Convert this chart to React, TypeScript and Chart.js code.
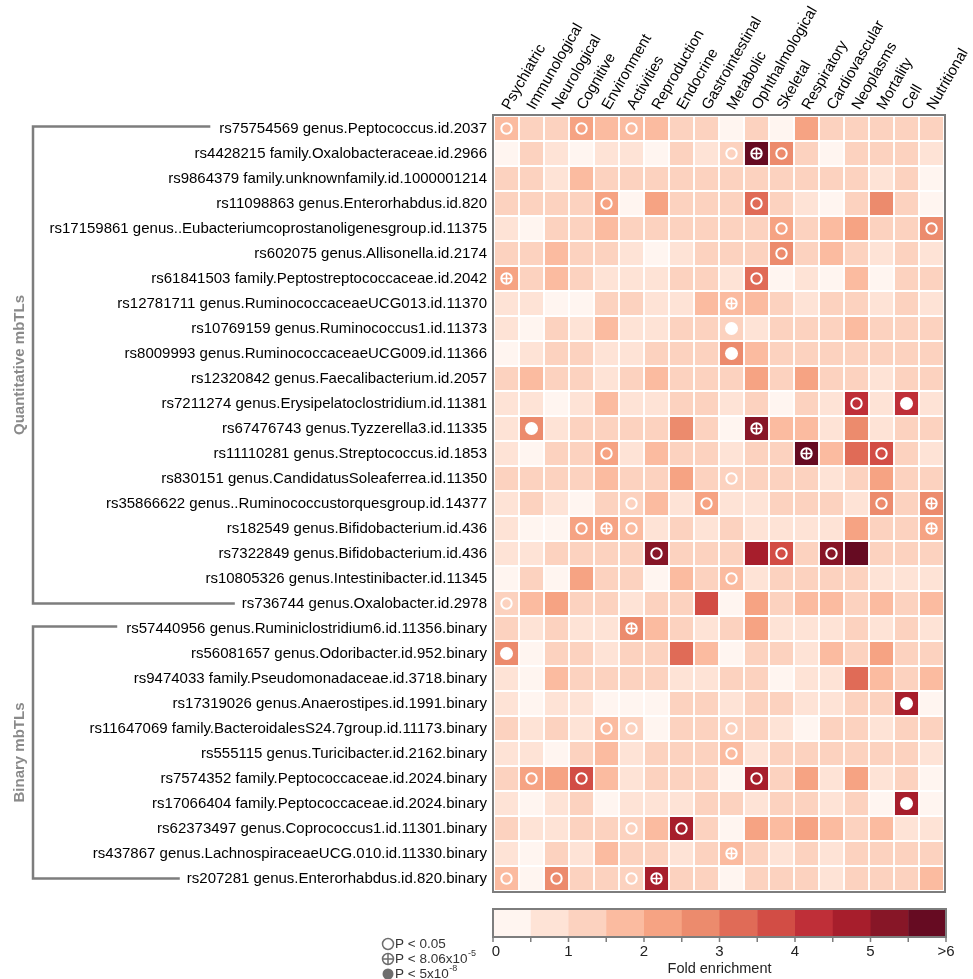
import React, { useEffect, useRef } from "react";
import { Chart, registerables } from "chart.js";

Chart.register(...registerables);

const FONT = '"Liberation Sans", Arial, Helvetica, sans-serif';

const traitCategories = [
  "Psychiatric", "Immunological", "Neurological", "Cognitive", "Environment", "Activities",
  "Reproduction", "Endocrine", "Gastrointestinal", "Metabolic", "Ophthalmological", "Skeletal",
  "Respiratory", "Cardiovascular", "Neoplasms", "Mortality", "Cell", "Nutritional",
];

const mbTLs = [
  "rs75754569 genus.Peptococcus.id.2037",
  "rs4428215 family.Oxalobacteraceae.id.2966",
  "rs9864379 family.unknownfamily.id.1000001214",
  "rs11098863 genus.Enterorhabdus.id.820",
  "rs17159861 genus..Eubacteriumcoprostanoligenesgroup.id.11375",
  "rs602075 genus.Allisonella.id.2174",
  "rs61841503 family.Peptostreptococcaceae.id.2042",
  "rs12781711 genus.RuminococcaceaeUCG013.id.11370",
  "rs10769159 genus.Ruminococcus1.id.11373",
  "rs8009993 genus.RuminococcaceaeUCG009.id.11366",
  "rs12320842 genus.Faecalibacterium.id.2057",
  "rs7211274 genus.Erysipelatoclostridium.id.11381",
  "rs67476743 genus.Tyzzerella3.id.11335",
  "rs11110281 genus.Streptococcus.id.1853",
  "rs830151 genus.CandidatusSoleaferrea.id.11350",
  "rs35866622 genus..Ruminococcustorquesgroup.id.14377",
  "rs182549 genus.Bifidobacterium.id.436",
  "rs7322849 genus.Bifidobacterium.id.436",
  "rs10805326 genus.Intestinibacter.id.11345",
  "rs736744 genus.Oxalobacter.id.2978",
  "rs57440956 genus.Ruminiclostridium6.id.11356.binary",
  "rs56081657 genus.Odoribacter.id.952.binary",
  "rs9474033 family.Pseudomonadaceae.id.3718.binary",
  "rs17319026 genus.Anaerostipes.id.1991.binary",
  "rs11647069 family.BacteroidalesS24.7group.id.11173.binary",
  "rs555115 genus.Turicibacter.id.2162.binary",
  "rs7574352 family.Peptococcaceae.id.2024.binary",
  "rs17066404 family.Peptococcaceae.id.2024.binary",
  "rs62373497 genus.Coprococcus1.id.11301.binary",
  "rs437867 genus.LachnospiraceaeUCG.010.id.11330.binary",
  "rs207281 genus.Enterorhabdus.id.820.binary",
];

// fold enrichment, one row per mbTL, one value per trait category
const foldEnrichment: number[][] = [
  [1.8, 1.2, 1.2, 2.2, 1.8, 1.8, 1.8, 1.2, 1.2, 0.3, 1.2, 0.3, 2.2, 1.2, 1.2, 1.2, 1.2, 1.2],
  [0.3, 1.2, 0.8, 0.3, 0.8, 0.8, 0.3, 1.2, 0.8, 1.2, 6.4, 2.8, 1.2, 0.3, 1.2, 1.2, 1.2, 0.8],
  [1.2, 1.2, 0.8, 1.8, 1.2, 1.2, 1.2, 1.2, 1.2, 1.2, 1.2, 1.2, 1.2, 1.2, 1.2, 0.8, 1.2, 0.3],
  [1.2, 1.2, 1.2, 1.2, 2.2, 0.3, 2.2, 1.2, 1.2, 1.2, 3.2, 1.2, 0.8, 0.3, 1.2, 2.8, 1.2, 0.3],
  [0.8, 0.3, 1.2, 1.2, 1.8, 1.2, 1.2, 1.2, 1.2, 1.2, 1.2, 2.2, 1.2, 1.8, 2.2, 1.2, 1.2, 2.8],
  [1.2, 1.2, 1.8, 1.2, 1.2, 0.8, 0.3, 0.8, 1.2, 1.2, 1.2, 2.8, 1.2, 1.8, 1.2, 0.8, 1.2, 0.8],
  [2.2, 1.2, 1.8, 1.2, 0.8, 0.8, 0.8, 1.2, 1.2, 0.8, 3.2, 0.3, 0.8, 0.3, 1.8, 0.3, 1.2, 1.2],
  [0.8, 0.8, 0.3, 0.3, 1.2, 1.2, 0.8, 0.8, 1.8, 1.8, 1.8, 1.2, 0.8, 1.2, 1.2, 0.8, 1.2, 0.8],
  [0.8, 0.3, 1.2, 0.8, 1.8, 0.8, 0.8, 1.2, 1.2, 1.2, 0.8, 1.2, 1.2, 1.2, 1.8, 1.2, 1.2, 1.2],
  [0.3, 0.8, 1.2, 1.2, 0.8, 0.8, 1.2, 1.2, 1.2, 2.8, 1.8, 1.2, 1.2, 1.2, 1.2, 1.2, 1.2, 1.2],
  [1.2, 1.8, 1.2, 1.2, 0.8, 1.2, 1.8, 1.2, 1.2, 1.2, 2.2, 1.2, 2.2, 1.2, 1.2, 0.8, 1.2, 1.2],
  [0.8, 0.8, 0.3, 0.8, 1.8, 0.8, 0.8, 1.2, 1.2, 0.8, 1.2, 0.3, 1.2, 0.8, 4.2, 0.8, 4.2, 0.8],
  [0.8, 2.8, 0.8, 1.2, 1.2, 1.2, 1.2, 2.8, 1.2, 0.3, 5.2, 1.8, 1.8, 0.8, 2.8, 0.8, 1.2, 1.2],
  [0.8, 0.3, 1.2, 1.2, 2.2, 0.8, 1.8, 1.2, 1.2, 0.8, 1.2, 1.2, 6.4, 1.8, 3.2, 3.8, 1.2, 0.8],
  [1.2, 1.2, 1.2, 1.2, 1.8, 1.2, 1.2, 2.2, 1.2, 1.2, 1.2, 1.2, 1.2, 0.8, 1.2, 2.2, 1.2, 1.2],
  [0.8, 1.2, 0.8, 0.3, 1.2, 1.2, 1.8, 0.8, 2.2, 0.8, 0.8, 1.2, 1.2, 1.2, 0.8, 2.8, 1.2, 2.8],
  [0.8, 0.3, 0.3, 2.2, 2.2, 1.8, 0.8, 1.2, 0.8, 1.2, 0.8, 0.8, 0.8, 0.8, 2.2, 1.2, 1.2, 2.2],
  [0.8, 0.8, 1.2, 1.2, 1.2, 1.2, 5.2, 1.2, 1.2, 1.2, 4.8, 3.8, 1.2, 5.2, 6.4, 1.2, 1.2, 1.2],
  [0.3, 1.2, 0.3, 2.2, 1.2, 1.2, 0.3, 1.8, 1.2, 1.8, 0.8, 1.2, 1.2, 1.2, 1.2, 0.8, 0.8, 0.8],
  [1.2, 1.8, 2.2, 1.2, 1.2, 0.8, 1.2, 1.2, 3.8, 0.3, 2.2, 1.2, 1.8, 1.8, 1.2, 1.8, 1.2, 1.8],
  [1.2, 0.8, 1.2, 0.8, 0.8, 2.8, 1.8, 1.2, 0.8, 1.2, 2.2, 0.8, 0.8, 0.8, 1.2, 0.8, 1.2, 0.8],
  [2.8, 0.3, 1.2, 1.2, 0.8, 1.2, 1.2, 3.2, 1.8, 0.3, 1.2, 1.2, 0.8, 1.8, 1.2, 2.2, 1.2, 1.2],
  [0.8, 0.3, 1.8, 1.2, 1.2, 1.2, 1.2, 0.8, 0.8, 1.2, 1.2, 0.3, 0.8, 0.8, 3.2, 1.8, 1.2, 1.8],
  [0.8, 0.3, 0.8, 0.8, 0.3, 0.3, 0.3, 1.2, 1.2, 0.8, 1.2, 1.2, 0.8, 0.8, 1.2, 1.2, 4.8, 0.3],
  [1.2, 0.8, 1.2, 0.8, 1.8, 1.2, 0.3, 1.2, 1.2, 1.2, 1.2, 0.8, 0.3, 1.2, 1.2, 0.8, 1.2, 1.2],
  [0.8, 0.8, 0.3, 1.2, 1.8, 0.8, 1.2, 1.2, 1.2, 1.8, 0.8, 1.2, 1.2, 1.2, 1.2, 1.2, 1.2, 0.8],
  [1.2, 2.2, 2.2, 3.8, 1.8, 0.8, 1.2, 1.2, 1.2, 0.3, 4.8, 1.2, 2.2, 0.8, 2.2, 0.8, 1.2, 0.3],
  [0.8, 0.3, 0.8, 1.2, 0.3, 0.8, 0.8, 0.8, 1.2, 1.2, 0.8, 1.2, 1.2, 0.8, 1.2, 0.3, 4.8, 0.3],
  [1.2, 0.8, 0.8, 1.2, 1.2, 1.2, 1.8, 4.8, 1.2, 0.3, 2.2, 1.8, 2.2, 1.8, 1.2, 1.8, 0.8, 0.8],
  [0.8, 0.3, 1.2, 0.8, 1.8, 1.2, 1.2, 0.8, 1.2, 1.8, 1.2, 0.8, 1.2, 0.8, 1.2, 1.2, 1.2, 1.2],
  [1.8, 0.3, 2.8, 1.2, 1.2, 1.2, 4.8, 1.2, 1.2, 0.3, 1.2, 1.2, 1.2, 0.8, 1.2, 1.2, 1.2, 1.8],
];

// [row, column, level]: 1 = P < 0.05, 2 = P < 8.06x10^-5, 3 = P < 5x10^-8
const significantCells: [number, number, number][] = [
  [0, 0, 1], [0, 3, 1], [0, 5, 1],
  [1, 9, 1], [1, 10, 2], [1, 11, 1],
  [3, 4, 1], [3, 10, 1],
  [4, 11, 1], [4, 17, 1],
  [5, 11, 1],
  [6, 0, 2], [6, 10, 1],
  [7, 9, 2],
  [8, 9, 3],
  [9, 9, 3],
  [11, 14, 1], [11, 16, 3],
  [12, 1, 3], [12, 10, 2],
  [13, 4, 1], [13, 12, 2], [13, 15, 1],
  [14, 9, 1],
  [15, 5, 1], [15, 8, 1], [15, 15, 1], [15, 17, 2],
  [16, 3, 1], [16, 4, 2], [16, 5, 1], [16, 17, 2],
  [17, 6, 1], [17, 11, 1], [17, 13, 1],
  [18, 9, 1],
  [19, 0, 1],
  [20, 5, 2],
  [21, 0, 3],
  [23, 16, 3],
  [24, 4, 1], [24, 5, 1], [24, 9, 1],
  [25, 9, 1],
  [26, 1, 1], [26, 3, 1], [26, 10, 1],
  [27, 16, 3],
  [28, 5, 1], [28, 7, 1],
  [29, 9, 2],
  [30, 0, 1], [30, 2, 1], [30, 5, 1], [30, 6, 2],
];

const colorBins = [
  "#fff5f0", "#fee3d6", "#fcd2bf", "#fbbba0", "#f6a383", "#ec8b6d",
  "#e06b57", "#d24d45", "#bf2f38", "#a71e2c", "#871627", "#660b22",
];
const binStep = 0.5;
const colorbarTickLabels = ["0", "1", "2", "3", "4", "5", ">6"];

const mbTLGroups = [
  { label: "Quantitative mbTLs", from: 0, to: 19 },
  { label: "Binary mbTLs", from: 20, to: 30 },
];

const pValueLegend = [
  { level: 1, text: "P < 0.05", sup: "" },
  { level: 2, text: "P < 8.06x10", sup: "-5" },
  { level: 3, text: "P < 5x10", sup: "-8" },
];

function binColor(v: number) {
  const i = Math.min(colorBins.length - 1, Math.max(0, Math.floor(v / binStep)));
  return colorBins[i];
}

const decorPlugin = {
  id: "decor",
  afterDraw(chart: any) {
    const { ctx, chartArea: a, scales } = chart;
    const ys = scales.y;
    ctx.save();

    // heatmap frame
    ctx.strokeStyle = "#7d7d7d";
    ctx.lineWidth = 2;
    ctx.strokeRect(a.left - 1, a.top - 1, a.right - a.left + 2, a.bottom - a.top + 2);

    // group brackets
    const labelRight = a.left - 7;
    const bracketX = 33;
    for (const g of mbTLGroups) {
      const yTop = ys.getPixelForValue(g.from) - 2;
      const yBot = ys.getPixelForValue(g.to);
      ctx.font = `15px ${FONT}`;
      const wTop = ctx.measureText(mbTLs[g.from]).width;
      const wBot = ctx.measureText(mbTLs[g.to]).width;
      ctx.strokeStyle = "#7d7d7d";
      ctx.lineWidth = 2.5;
      ctx.beginPath();
      ctx.moveTo(labelRight - wTop - 9, yTop);
      ctx.lineTo(bracketX, yTop);
      ctx.lineTo(bracketX, yBot);
      ctx.lineTo(labelRight - wBot - 7, yBot);
      ctx.stroke();

      ctx.save();
      ctx.translate(20, (yTop + yBot) / 2);
      ctx.rotate(-Math.PI / 2);
      ctx.font = `bold 15px ${FONT}`;
      ctx.fillStyle = "#8a8a8a";
      ctx.textAlign = "center";
      ctx.textBaseline = "middle";
      ctx.fillText(g.label, 0, 0);
      ctx.restore();
    }

    // colour bar
    const cbLeft = a.left - 1;
    const cbRight = a.right + 2;
    const cbTop = 909;
    const cbBot = 937;
    const bw = (cbRight - cbLeft) / colorBins.length;
    colorBins.forEach((c, i) => {
      ctx.fillStyle = c;
      ctx.fillRect(cbLeft + i * bw, cbTop, bw + 0.5, cbBot - cbTop);
    });
    ctx.strokeStyle = "#7d7d7d";
    ctx.lineWidth = 2;
    ctx.strokeRect(cbLeft, cbTop, cbRight - cbLeft, cbBot - cbTop);
    ctx.lineWidth = 1.5;
    for (let i = 0; i <= colorBins.length; i++) {
      const x = cbLeft + i * bw;
      ctx.beginPath();
      ctx.moveTo(x, cbBot);
      ctx.lineTo(x, cbBot + 5);
      ctx.stroke();
    }
    ctx.fillStyle = "#222";
    ctx.font = `15px ${FONT}`;
    ctx.textAlign = "center";
    ctx.textBaseline = "middle";
    colorbarTickLabels.forEach((t, k) => {
      ctx.fillText(t, cbLeft + k * 2 * bw + (k === 0 ? 3 : 0), 952);
    });
    ctx.font = `14.5px ${FONT}`;
    ctx.fillText("Fold enrichment", (cbLeft + cbRight) / 2, 969);

    // p-value legend
    const lx = 388;
    pValueLegend.forEach((p, k) => {
      const y = 944 + k * 15;
      ctx.strokeStyle = "#6e6e6e";
      ctx.fillStyle = "#6e6e6e";
      ctx.lineWidth = 1.5;
      ctx.beginPath();
      ctx.arc(lx, y, 5.5, 0, Math.PI * 2);
      if (p.level === 3) ctx.fill();
      else ctx.stroke();
      if (p.level === 2) {
        ctx.beginPath();
        ctx.moveTo(lx - 5.5, y);
        ctx.lineTo(lx + 5.5, y);
        ctx.moveTo(lx, y - 5.5);
        ctx.lineTo(lx, y + 5.5);
        ctx.stroke();
      }
      ctx.fillStyle = "#333";
      ctx.font = `13.5px ${FONT}`;
      ctx.textAlign = "left";
      ctx.textBaseline = "middle";
      ctx.fillText(p.text, lx + 7, y);
      if (p.sup) {
        const w = ctx.measureText(p.text).width;
        ctx.font = `9px ${FONT}`;
        ctx.fillText(p.sup, lx + 7 + w + 0.5, y - 5);
      }
    });

    ctx.restore();
  },
};

export default function App() {
  const canvasRef = useRef<HTMLCanvasElement | null>(null);

  useEffect(() => {
    const canvas = canvasRef.current;
    if (!canvas) return;

    const barDatasets = traitCategories.map((name, j) => ({
      type: "bar" as const,
      label: name,
      indexAxis: "y" as const,
      data: mbTLs.map(() => [j, j + 1]),
      backgroundColor: foldEnrichment.map((row) => binColor(row[j])),
      borderColor: "#ffffff",
      borderWidth: 1.3,
      borderSkipped: false,
      categoryPercentage: 1,
      barPercentage: 1,
      grouped: false,
      order: 2,
    }));

    const ringPts = significantCells
      .filter((c) => c[2] === 1 || c[2] === 2)
      .map(([r, c]) => ({ x: c + 0.5, y: mbTLs[r] }));
    const crossPts = significantCells
      .filter((c) => c[2] === 2)
      .map(([r, c]) => ({ x: c + 0.5, y: mbTLs[r] }));
    const dotPts = significantCells
      .filter((c) => c[2] === 3)
      .map(([r, c]) => ({ x: c + 0.5, y: mbTLs[r] }));

    const scatterDatasets = [
      {
        type: "scatter" as const,
        label: "P < 0.05",
        data: ringPts,
        pointStyle: "circle",
        pointRadius: 5.2,
        pointBorderWidth: 2,
        pointBorderColor: "#ffffff",
        pointBackgroundColor: "rgba(0,0,0,0)",
        order: 0,
      },
      {
        type: "scatter" as const,
        label: "P < 8.06x10-5",
        data: crossPts,
        pointStyle: "cross",
        pointRadius: 5.2,
        pointBorderWidth: 1.6,
        pointBorderColor: "#ffffff",
        order: 0,
      },
      {
        type: "scatter" as const,
        label: "P < 5x10-8",
        data: dotPts,
        pointStyle: "circle",
        pointRadius: 6.5,
        pointBorderWidth: 0,
        pointBackgroundColor: "#ffffff",
        order: 0,
      },
    ];

    const chart = new Chart(canvas, {
      type: "bar",
      data: {
        labels: mbTLs,
        datasets: [...scatterDatasets, ...barDatasets] as any,
      },
      options: {
        indexAxis: "y",
        animation: false,
        responsive: false,
        devicePixelRatio: 1,
        layout: { padding: { top: 0, left: 0, right: 29, bottom: 88 } },
        plugins: {
          legend: { display: false },
          tooltip: { enabled: false },
        },
        scales: {
          x: {
            type: "linear",
            position: "top",
            min: 0,
            max: traitCategories.length,
            grid: { display: false, drawTicks: false },
            border: { display: false },
            afterBuildTicks: (s: any) => {
              s.ticks = traitCategories.map((_, i) => ({ value: i + 0.5 }));
            },
            afterFit: (s: any) => {
              s.height = 116;
            },
            ticks: {
              autoSkip: false,
              minRotation: 60,
              maxRotation: 60,
              padding: 3,
              labelOffset: 15,
              color: "#000",
              font: { size: 15, family: FONT },
              callback: (v: any) => traitCategories[Math.floor(Number(v))] ?? "",
            },
          },
          y: {
            type: "category",
            offset: true,
            grid: { display: false, drawTicks: false },
            border: { display: false },
            afterFit: (s: any) => {
              s.width = 494;
            },
            ticks: {
              autoSkip: false,
              padding: 7,
              color: "#000",
              font: { size: 15, family: FONT },
            },
          },
        },
      } as any,
      plugins: [decorPlugin],
    });

    return () => chart.destroy();
  }, []);

  return (
    <div style={{ position: "fixed", left: 0, top: 0, width: 973, height: 979, background: "#fff" }}>
      <canvas ref={canvasRef} width={973} height={979} style={{ width: 973, height: 979 }} />
    </div>
  );
}
